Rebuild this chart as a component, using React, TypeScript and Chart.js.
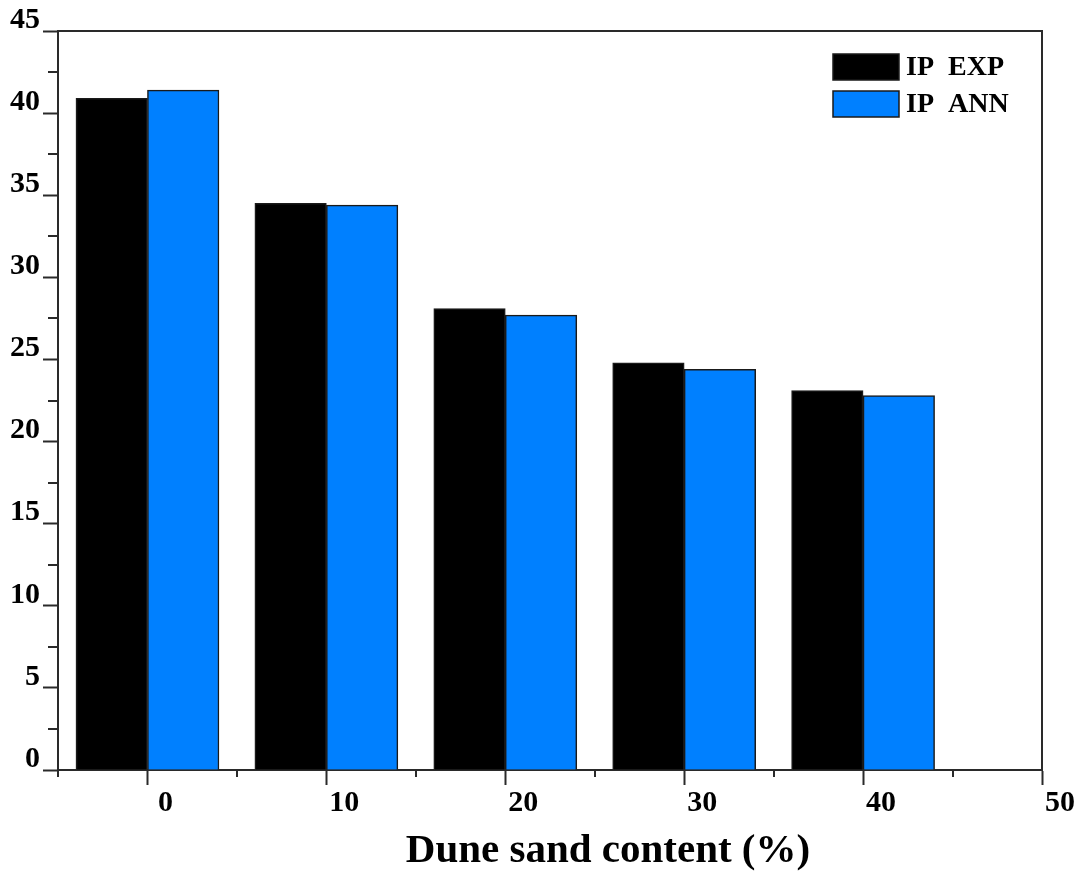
import { useEffect, useRef } from "react";
import { Chart, registerables } from "chart.js";

Chart.register(...registerables);

// ---- data ----
const contents = [0, 10, 20, 30, 40];
const ipExp = [40.9, 34.5, 28.1, 24.8, 23.1];
const ipAnn = [41.4, 34.4, 27.7, 24.4, 22.8];
const seriesLabels = ["IP  EXP", "IP  ANN"];
const xMajorTicks = [0, 10, 20, 30, 40, 50];
const xMinorTicks = [-5, 5, 15, 25, 35, 45];
const yMajorTicks = [0, 5, 10, 15, 20, 25, 30, 35, 40, 45];
const yMinorTicks = [2.5, 7.5, 12.5, 17.5, 22.5, 27.5, 32.5, 37.5, 42.5];
const xTitle = "Dune sand content (%)";

// ---- styles ----
const FONT = "'Liberation Serif', 'Times New Roman', serif";
const AXIS = "#2a2a2a";
const BAR_EDGE = "#1a1a1a";
const COLORS = ["#000000", "#0080ff"];

const framePlugin = {
  id: "frame",
  afterDraw(chart: any) {
    const { ctx, chartArea, scales } = chart;
    const { left, right, top, bottom } = chartArea;
    const x = scales.x;
    const y = scales.y;
    ctx.save();
    ctx.strokeStyle = AXIS;
    ctx.lineWidth = 2;
    ctx.beginPath();
    ctx.moveTo(left - 1, top);
    ctx.lineTo(right, top);
    ctx.lineTo(right, bottom);
    ctx.stroke();
    ctx.beginPath();
    xMinorTicks.forEach((v) => {
      const px = Math.round(x.getPixelForValue(v));
      ctx.moveTo(px, bottom);
      ctx.lineTo(px, bottom + 7);
    });
    yMinorTicks.forEach((v) => {
      const py = Math.round(y.getPixelForValue(v));
      ctx.moveTo(left, py);
      ctx.lineTo(left - 10, py);
    });
    ctx.stroke();

    // axis title
    ctx.fillStyle = "#000";
    ctx.font = `bold 41px ${FONT}`;
    ctx.textAlign = "center";
    ctx.textBaseline = "alphabetic";
    ctx.fillText(xTitle, (left + right) / 2 + 58, bottom + 92);

    // legend
    const bx = right - 209;
    const by = top + 23;
    const bw = 66;
    const bh = 26;
    const gap = 37;
    ctx.font = `bold 28px ${FONT}`;
    ctx.textBaseline = "middle";
    ctx.textAlign = "left";
    chart.data.datasets.forEach((ds: any, i: number) => {
      const yy = by + i * gap;
      ctx.fillStyle = ds.backgroundColor;
      ctx.fillRect(bx, yy, bw, bh);
      ctx.lineWidth = 1.5;
      ctx.strokeStyle = BAR_EDGE;
      ctx.strokeRect(bx, yy, bw, bh);
      ctx.fillStyle = "#000";
      ctx.fillText(ds.label, bx + bw + 7, yy + bh / 2 + 1);
    });
    ctx.restore();
  },
};

export default function App() {
  const ref = useRef<HTMLCanvasElement | null>(null);

  useEffect(() => {
    if (!ref.current) return;
    const chart = new Chart(ref.current, {
      type: "bar",
      data: {
        datasets: [ipExp, ipAnn].map((vals, si) => ({
          label: seriesLabels[si],
          data: contents.map((c, i) => ({ x: c, y: vals[i] })),
          backgroundColor: COLORS[si],
          borderColor: BAR_EDGE,
          borderWidth: 1.5,
          barThickness: 71.5,
        })),
      },
      options: {
        responsive: false,
        animation: false,
        events: [],
        layout: { padding: { top: 31, right: 42, left: 0, bottom: 0 } },
        plugins: {
          legend: { display: false },
          tooltip: { enabled: false },
        },
        scales: {
          x: {
            type: "linear",
            min: -5,
            max: 50,
            offset: false,
            afterBuildTicks: (s: any) => {
              s.ticks = xMajorTicks.map((v) => ({ value: v }));
            },
            afterFit: (s: any) => {
              s.height = 104;
            },
            grid: {
              offset: false,
              drawOnChartArea: false,
              drawTicks: true,
              tickLength: 15,
              tickWidth: 2,
              tickColor: AXIS,
            },
            border: { display: true, color: AXIS, width: 2 },
            ticks: {
              autoSkip: false,
              maxRotation: 0,
              padding: 0,
              labelOffset: 18,
              color: "#000",
              font: { family: FONT, size: 30, weight: "bold" },
              callback: (v: any) => String(v),
            },
            title: { display: false },
          },
          y: {
            type: "linear",
            min: 0,
            max: 45,
            afterBuildTicks: (s: any) => {
              s.ticks = yMajorTicks.map((v) => ({ value: v }));
            },
            afterFit: (s: any) => {
              s.width = 58;
            },
            grid: {
              drawOnChartArea: false,
              drawTicks: true,
              tickLength: 15,
              tickWidth: 2,
              tickColor: AXIS,
            },
            border: { display: true, color: AXIS, width: 2 },
            ticks: {
              autoSkip: false,
              padding: 3,
              labelOffset: -11,
              color: "#000",
              font: { family: FONT, size: 30, weight: "bold" },
              callback: (v: any) => String(v),
            },
          },
        },
      },
      plugins: [framePlugin],
    } as any);
    return () => chart.destroy();
  }, []);

  return (
    <canvas
      ref={ref}
      width={1084}
      height={874}
      style={{ position: "fixed", left: 0, top: 0, width: 1084, height: 874, background: "#fff" }}
    />
  );
}
